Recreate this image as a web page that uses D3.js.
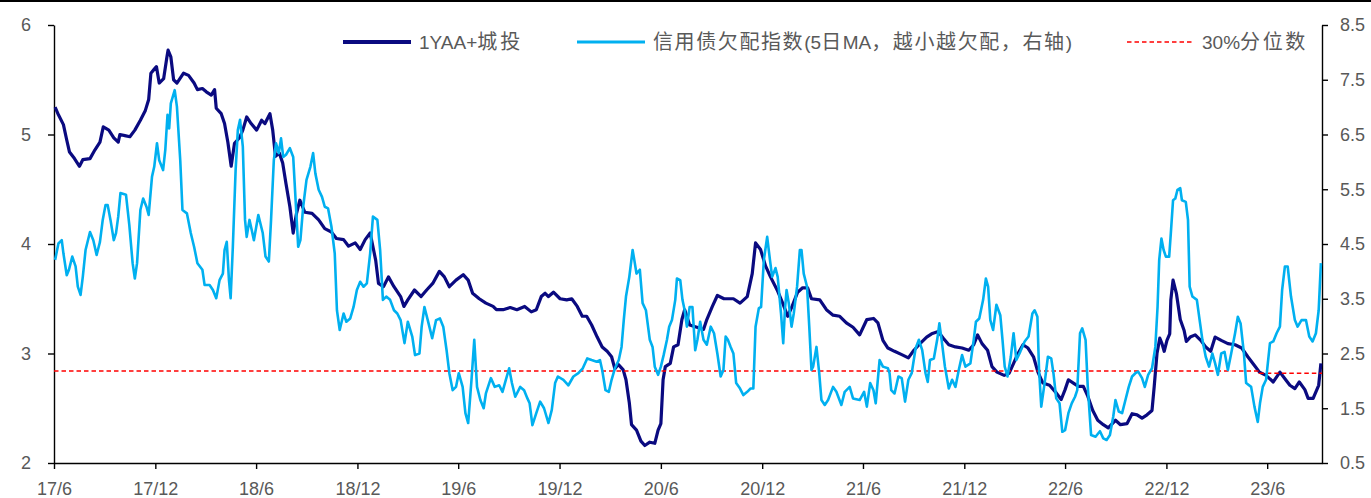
<!DOCTYPE html>
<html>
<head>
<meta charset="utf-8">
<script src="https://cdn.jsdelivr.net/npm/d3@7"></script>
<style>
  body { margin: 0; background: #fff; }
  svg { display: block; }
  text { font-family: "Liberation Sans", Arial, "Noto Sans CJK SC", sans-serif; fill: #595959; }
</style>
</head>
<body>
<svg id="chart"></svg>
<script>
// 1YAA+城投 yield (left axis)
var yieldSeries = [
  ["2017-06-03",5.25],["2017-06-09",5.18],["2017-06-18",5.09],["2017-06-24",4.95],["2017-06-29",4.84],
  ["2017-07-08",4.78],["2017-07-17",4.71],["2017-07-23",4.77],["2017-08-05",4.78],["2017-08-14",4.86],
  ["2017-08-23",4.93],["2017-08-29",5.07],["2017-09-08",5.04],["2017-09-17",4.97],["2017-09-25",4.93],
  ["2017-09-28",5.00],["2017-10-07",4.99],["2017-10-16",4.98],["2017-10-25",5.04],["2017-11-04",5.13],
  ["2017-11-13",5.22],["2017-11-19",5.32],["2017-11-23",5.56],["2017-11-28",5.59],["2017-12-03",5.62],
  ["2017-12-08",5.47],["2017-12-16",5.51],["2017-12-22",5.71],["2017-12-24",5.77],["2017-12-29",5.71],
  ["2018-01-03",5.50],["2018-01-09",5.47],["2018-01-21",5.56],["2018-01-30",5.54],["2018-02-09",5.47],
  ["2018-02-15",5.41],["2018-02-24",5.42],["2018-03-03",5.39],["2018-03-12",5.36],["2018-03-18",5.41],
  ["2018-03-21",5.24],["2018-03-30",5.19],["2018-04-05",5.10],["2018-04-11",4.93],["2018-04-17",4.71],
  ["2018-04-23",4.92],["2018-05-02",4.97],["2018-05-08",5.04],["2018-05-15",5.16],["2018-05-23",5.10],
  ["2018-06-02",5.04],["2018-06-11",5.13],["2018-06-17",5.10],["2018-06-26",5.19],["2018-07-01",5.04],
  ["2018-07-06",4.80],["2018-07-13",4.83],["2018-07-19",4.74],["2018-07-25",4.55],["2018-08-01",4.34],
  ["2018-08-07",4.10],["2018-08-13",4.28],["2018-08-19",4.40],["2018-08-28",4.29],["2018-09-10",4.28],
  ["2018-09-22",4.22],["2018-10-03",4.14],["2018-10-15",4.11],["2018-10-24",4.05],["2018-11-06",4.04],
  ["2018-11-15",3.98],["2018-11-27",4.01],["2018-12-06",3.95],["2018-12-15",4.04],["2018-12-24",4.10],
  ["2019-01-03",3.85],["2019-01-08",3.64],["2019-01-17",3.61],["2019-01-26",3.70],["2019-02-05",3.61],
  ["2019-02-17",3.52],["2019-02-23",3.43],["2019-03-02",3.49],["2019-03-14",3.58],["2019-03-26",3.52],
  ["2019-04-05",3.58],["2019-04-16",3.64],["2019-04-28",3.75],["2019-05-07",3.70],["2019-05-16",3.61],
  ["2019-05-28",3.67],["2019-06-10",3.72],["2019-06-19",3.67],["2019-06-27",3.55],["2019-07-09",3.50],
  ["2019-07-21",3.46],["2019-08-03",3.43],["2019-08-09",3.40],["2019-08-21",3.40],["2019-09-03",3.42],
  ["2019-09-15",3.40],["2019-09-29",3.43],["2019-10-11",3.38],["2019-10-20",3.40],["2019-10-29",3.52],
  ["2019-11-05",3.55],["2019-11-11",3.52],["2019-11-20",3.56],["2019-12-02",3.50],["2019-12-14",3.49],
  ["2019-12-23",3.50],["2020-01-02",3.43],["2020-01-11",3.34],["2020-01-19",3.34],["2020-01-28",3.26],
  ["2020-02-07",3.15],["2020-02-16",3.06],["2020-02-25",3.02],["2020-03-04",2.97],["2020-03-10",2.86],
  ["2020-03-16",2.90],["2020-03-25",2.85],["2020-03-30",2.76],["2020-04-05",2.55],["2020-04-09",2.35],
  ["2020-04-18",2.30],["2020-04-26",2.20],["2020-05-03",2.16],["2020-05-12",2.19],["2020-05-21",2.18],
  ["2020-05-27",2.30],["2020-06-01",2.36],["2020-06-05",2.76],["2020-06-09",2.88],["2020-06-18",2.91],
  ["2020-06-24",3.06],["2020-07-02",3.08],["2020-07-09",3.31],["2020-07-14",3.40],["2020-07-23",3.26],
  ["2020-08-05",3.24],["2020-08-17",3.22],["2020-08-23",3.31],["2020-09-02",3.43],["2020-09-11",3.53],
  ["2020-09-23",3.50],["2020-10-10",3.50],["2020-10-22",3.46],["2020-11-04",3.52],["2020-11-13",3.73],
  ["2020-11-19",4.01],["2020-11-28",3.95],["2020-12-07",3.80],["2020-12-16",3.70],["2020-12-28",3.58],
  ["2021-01-07",3.46],["2021-01-16",3.34],["2021-01-24",3.43],["2021-02-03",3.56],["2021-02-12",3.60],
  ["2021-02-21",3.60],["2021-02-28",3.50],["2021-03-15",3.49],["2021-03-27",3.40],["2021-04-08",3.35],
  ["2021-04-20",3.34],["2021-05-02",3.28],["2021-05-14",3.24],["2021-05-26",3.17],["2021-06-08",3.31],
  ["2021-06-20",3.32],["2021-06-28",3.28],["2021-07-07",3.12],["2021-07-16",3.05],["2021-07-28",3.02],
  ["2021-08-10",2.99],["2021-08-22",2.96],["2021-09-01",3.03],["2021-09-12",3.09],["2021-09-24",3.15],
  ["2021-10-03",3.18],["2021-10-15",3.20],["2021-10-24",3.14],["2021-11-03",3.08],["2021-11-15",3.06],
  ["2021-11-27",3.05],["2021-12-09",3.03],["2021-12-18",3.08],["2021-12-25",3.17],["2022-01-02",3.09],
  ["2022-01-12",3.03],["2022-01-20",2.88],["2022-01-29",2.83],["2022-02-11",2.80],["2022-02-20",2.82],
  ["2022-02-28",2.91],["2022-03-08",3.00],["2022-03-17",3.08],["2022-03-26",3.05],["2022-04-05",2.97],
  ["2022-04-13",2.83],["2022-04-22",2.73],["2022-05-04",2.71],["2022-05-16",2.64],["2022-05-25",2.58],
  ["2022-06-01",2.67],["2022-06-07",2.76],["2022-06-16",2.73],["2022-06-25",2.70],["2022-07-04",2.70],
  ["2022-07-12",2.61],["2022-07-21",2.48],["2022-07-30",2.39],["2022-08-09",2.35],["2022-08-18",2.32],
  ["2022-08-31",2.39],["2022-09-09",2.35],["2022-09-21",2.36],["2022-09-30",2.45],["2022-10-09",2.44],
  ["2022-10-18",2.41],["2022-10-27",2.44],["2022-11-05",2.48],["2022-11-09",2.70],["2022-11-14",3.00],
  ["2022-11-19",3.14],["2022-11-23",3.09],["2022-11-27",3.02],["2022-12-02",3.12],["2022-12-07",3.18],
  ["2022-12-09",3.49],["2022-12-13",3.67],["2022-12-19",3.55],["2022-12-26",3.31],["2023-01-02",3.21],
  ["2023-01-06",3.11],["2023-01-13",3.15],["2023-01-22",3.17],["2023-02-01",3.12],["2023-02-10",3.06],
  ["2023-02-19",3.02],["2023-02-27",3.15],["2023-03-10",3.12],["2023-03-22",3.09],["2023-04-04",3.08],
  ["2023-04-16",3.05],["2023-04-27",2.97],["2023-05-09",2.89],["2023-05-18",2.83],["2023-05-30",2.80],
  ["2023-06-12",2.74],["2023-06-24",2.83],["2023-07-03",2.77],["2023-07-12",2.71],["2023-07-21",2.68],
  ["2023-07-29",2.74],["2023-08-08",2.67],["2023-08-14",2.59],["2023-08-23",2.59],["2023-09-02",2.71],
  ["2023-09-06",2.91]
];

// 信用债欠配指数 5日MA (right axis)
var indexSeries = [
  ["2017-06-03",4.21],["2017-06-09",4.51],["2017-06-15",4.57],["2017-06-18",4.33],["2017-06-24",3.93],
  ["2017-06-28",4.03],["2017-07-04",4.27],["2017-07-10",4.09],["2017-07-14",3.72],["2017-07-19",3.57],
  ["2017-07-23",3.90],["2017-07-28",4.39],["2017-08-05",4.72],["2017-08-11",4.57],["2017-08-17",4.30],
  ["2017-08-23",4.54],["2017-08-28",4.94],["2017-09-02",5.21],["2017-09-06",5.21],["2017-09-11",4.94],
  ["2017-09-17",4.57],["2017-09-21",4.70],["2017-09-25",5.00],["2017-09-29",5.43],["2017-10-09",5.40],
  ["2017-10-15",4.85],["2017-10-21",4.15],["2017-10-25",3.87],["2017-10-29",4.15],["2017-11-04",5.12],
  ["2017-11-09",5.33],["2017-11-15",5.18],["2017-11-19",5.03],["2017-11-25",5.73],["2017-11-29",5.91],
  ["2017-12-04",6.34],["2017-12-08",6.03],["2017-12-15",5.85],["2017-12-19",6.22],["2017-12-23",6.86],
  ["2017-12-26",6.61],["2017-12-29",7.07],["2018-01-05",7.31],["2018-01-09",7.01],["2018-01-15",6.03],
  ["2018-01-19",5.12],["2018-01-27",5.06],["2018-02-03",4.70],["2018-02-09",4.45],["2018-02-15",4.15],
  ["2018-02-24",4.03],["2018-02-28",3.75],["2018-03-09",3.75],["2018-03-15",3.66],["2018-03-21",3.51],
  ["2018-03-27",3.84],["2018-04-02",3.96],["2018-04-05",4.39],["2018-04-09",4.54],["2018-04-13",3.84],
  ["2018-04-16",3.51],["2018-04-20",4.45],["2018-04-25",5.85],["2018-04-29",6.58],["2018-05-03",6.77],
  ["2018-05-08",6.28],["2018-05-12",4.94],["2018-05-15",4.63],["2018-05-20",4.94],["2018-05-24",4.76],
  ["2018-05-28",4.57],["2018-06-05",5.03],["2018-06-13",4.70],["2018-06-18",4.27],["2018-06-24",4.18],
  ["2018-06-28",4.94],["2018-07-03",6.03],["2018-07-07",6.34],["2018-07-12",6.16],["2018-07-16",6.43],
  ["2018-07-20",6.09],["2018-07-25",6.13],["2018-08-01",6.25],["2018-08-07",6.09],["2018-08-12",5.18],
  ["2018-08-16",4.45],["2018-08-20",4.57],["2018-08-25",5.18],["2018-08-31",5.67],["2018-09-07",5.91],
  ["2018-09-12",6.16],["2018-09-16",5.79],["2018-09-22",5.49],["2018-09-28",5.36],["2018-10-03",5.18],
  ["2018-10-09",5.15],["2018-10-15",4.82],["2018-10-21",4.33],["2018-10-25",3.29],["2018-10-30",2.93],
  ["2018-11-06",3.23],["2018-11-11",3.08],["2018-11-18",3.14],["2018-11-24",3.35],["2018-11-30",3.66],
  ["2018-12-06",3.81],["2018-12-12",3.72],["2018-12-18",3.78],["2018-12-24",4.33],["2018-12-29",5.00],
  ["2019-01-06",4.94],["2019-01-11",4.39],["2019-01-16",3.48],["2019-01-22",3.54],["2019-01-29",3.48],
  ["2019-02-05",3.29],["2019-02-11",3.23],["2019-02-17",3.11],["2019-02-24",2.69],["2019-03-02",3.08],
  ["2019-03-10",2.81],["2019-03-15",2.47],["2019-03-23",2.50],["2019-03-27",2.99],["2019-04-01",3.35],
  ["2019-04-07",3.11],["2019-04-15",2.78],["2019-04-22",3.11],["2019-04-29",3.14],["2019-05-05",2.99],
  ["2019-05-11",2.56],["2019-05-16",2.14],["2019-05-22",1.83],["2019-05-28",1.89],["2019-06-02",2.14],
  ["2019-06-09",1.89],["2019-06-14",1.41],["2019-06-19",1.23],["2019-06-25",2.02],["2019-06-30",2.75],
  ["2019-07-05",1.89],["2019-07-11",1.65],["2019-07-17",1.50],["2019-07-21",1.77],["2019-07-30",2.05],
  ["2019-08-06",1.89],["2019-08-14",1.92],["2019-08-20",1.80],["2019-08-26",2.02],["2019-09-01",2.23],
  ["2019-09-06",1.96],["2019-09-12",1.71],["2019-09-21",1.89],["2019-09-28",1.83],["2019-10-04",1.68],
  ["2019-10-08",1.59],["2019-10-13",1.19],["2019-10-20",1.41],["2019-10-27",1.62],["2019-11-03",1.50],
  ["2019-11-11",1.23],["2019-11-17",1.47],["2019-11-23",1.96],["2019-11-28",2.08],["2019-12-08",2.02],
  ["2019-12-17",1.92],["2019-12-26",2.08],["2020-01-04",2.14],["2020-01-12",2.23],["2020-01-20",2.41],
  ["2020-01-28",2.38],["2020-02-06",2.35],["2020-02-12",2.38],["2020-02-16",2.20],["2020-02-22",1.83],
  ["2020-02-28",1.80],["2020-03-04",2.02],["2020-03-10",2.23],["2020-03-17",2.38],["2020-03-22",2.62],
  ["2020-03-26",3.11],["2020-03-30",3.54],["2020-04-05",3.90],["2020-04-11",4.39],["2020-04-14",4.21],
  ["2020-04-18",3.96],["2020-04-24",4.03],["2020-04-29",3.42],["2020-05-05",3.29],["2020-05-12",2.75],
  ["2020-05-17",2.62],["2020-05-21",2.26],["2020-05-27",2.11],["2020-06-01",2.26],["2020-06-06",2.47],
  ["2020-06-12",2.75],["2020-06-16",2.99],["2020-06-21",3.11],["2020-06-27",3.48],["2020-06-30",3.87],
  ["2020-07-06",3.84],["2020-07-10",3.48],["2020-07-14",3.29],["2020-07-18",2.99],["2020-07-23",3.35],
  ["2020-07-28",3.35],["2020-08-02",2.56],["2020-08-06",2.75],["2020-08-11",3.08],["2020-08-17",2.75],
  ["2020-08-23",2.66],["2020-08-30",2.99],["2020-09-05",2.87],["2020-09-11",2.50],["2020-09-17",2.08],
  ["2020-09-22",2.20],["2020-09-26",2.81],["2020-09-30",2.75],["2020-10-05",2.62],["2020-10-10",2.50],
  ["2020-10-15",1.96],["2020-10-22",1.86],["2020-10-28",1.74],["2020-11-04",1.80],["2020-11-10",1.86],
  ["2020-11-15",1.86],["2020-11-19",2.99],["2020-11-25",3.33],["2020-11-29",3.35],["2020-12-04",4.21],
  ["2020-12-10",4.63],["2020-12-15",4.21],["2020-12-19",3.90],["2020-12-25",4.06],["2020-12-29",3.90],
  ["2021-01-04",3.23],["2021-01-08",2.69],["2021-01-11",3.29],["2021-01-14",3.66],["2021-01-18",3.42],
  ["2021-01-23",2.99],["2021-01-27",3.23],["2021-02-02",3.72],["2021-02-07",4.39],["2021-02-10",4.39],
  ["2021-02-14",3.96],["2021-02-20",3.72],["2021-02-24",2.99],["2021-02-28",2.20],["2021-03-03",2.26],
  ["2021-03-09",2.62],["2021-03-14",2.14],["2021-03-18",1.65],["2021-03-24",1.56],["2021-03-30",1.65],
  ["2021-04-08",1.89],["2021-04-14",1.80],["2021-04-23",1.56],["2021-04-29",1.80],["2021-05-08",1.89],
  ["2021-05-14",1.68],["2021-05-26",1.65],["2021-06-03",1.80],["2021-06-08",1.53],["2021-06-14",1.96],
  ["2021-06-20",1.83],["2021-06-24",1.59],["2021-07-01",2.38],["2021-07-07",2.26],["2021-07-16",2.23],
  ["2021-07-19",2.14],["2021-07-22",1.83],["2021-07-28",1.77],["2021-08-04",2.08],["2021-08-10",2.05],
  ["2021-08-16",1.62],["2021-08-22",2.02],["2021-08-28",2.14],["2021-09-04",2.59],["2021-09-10",2.75],
  ["2021-09-16",2.56],["2021-09-22",2.14],["2021-09-26",1.98],["2021-09-30",2.38],["2021-10-07",2.41],
  ["2021-10-13",2.75],["2021-10-17",3.05],["2021-10-21",2.75],["2021-10-27",2.26],["2021-11-03",1.86],
  ["2021-11-09",2.02],["2021-11-15",1.89],["2021-11-21",2.20],["2021-11-27",2.47],["2021-12-03",2.26],
  ["2021-12-12",2.32],["2021-12-18",2.75],["2021-12-22",3.08],["2021-12-28",3.14],["2022-01-04",3.48],
  ["2022-01-09",3.87],["2022-01-13",3.72],["2022-01-17",3.11],["2022-01-22",2.93],["2022-01-28",3.39],
  ["2022-02-04",3.20],["2022-02-08",2.75],["2022-02-12",2.26],["2022-02-17",2.08],["2022-02-23",2.44],
  ["2022-02-28",2.87],["2022-03-05",2.38],["2022-03-12",2.53],["2022-03-20",2.72],["2022-03-27",2.81],
  ["2022-04-03",3.23],["2022-04-07",3.29],["2022-04-12",3.17],["2022-04-15",2.20],["2022-04-19",1.53],
  ["2022-04-25",1.96],["2022-05-01",2.44],["2022-05-07",2.41],["2022-05-11",2.14],["2022-05-16",1.68],
  ["2022-05-22",1.59],["2022-05-27",1.07],["2022-06-01",1.10],["2022-06-07",1.41],["2022-06-13",1.59],
  ["2022-06-19",1.71],["2022-06-23",1.83],["2022-06-28",2.87],["2022-07-02",2.96],["2022-07-08",2.75],
  ["2022-07-12",1.89],["2022-07-18",1.01],["2022-07-26",0.98],["2022-08-03",1.08],["2022-08-09",0.95],
  ["2022-08-15",0.92],["2022-08-21",1.01],["2022-08-27",1.35],["2022-08-31",1.65],["2022-09-06",1.44],
  ["2022-09-12",1.41],["2022-09-18",1.65],["2022-09-24",1.89],["2022-09-30",2.08],["2022-10-06",2.14],
  ["2022-10-11",2.17],["2022-10-18",2.05],["2022-10-23",1.89],["2022-10-29",2.11],["2022-11-05",2.23],
  ["2022-11-11",2.62],["2022-11-15",3.35],["2022-11-18",4.21],["2022-11-22",4.60],["2022-11-26",4.39],
  ["2022-11-30",4.27],["2022-12-06",4.27],["2022-12-09",4.70],["2022-12-13",5.30],["2022-12-17",5.33],
  ["2022-12-21",5.49],["2022-12-26",5.52],["2022-12-29",5.30],["2023-01-05",5.27],["2023-01-09",4.94],
  ["2023-01-12",3.72],["2023-01-17",3.54],["2023-01-25",3.48],["2023-01-30",3.11],["2023-02-04",2.75],
  ["2023-02-10",2.44],["2023-02-16",2.26],["2023-02-22",2.50],["2023-02-27",2.32],["2023-03-04",2.11],
  ["2023-03-10",2.50],["2023-03-16",2.53],["2023-03-22",2.20],["2023-03-28",2.50],["2023-04-04",2.87],
  ["2023-04-09",3.17],["2023-04-14",3.05],["2023-04-20",2.50],["2023-04-24",1.96],["2023-05-03",1.89],
  ["2023-05-09",1.53],["2023-05-15",1.25],["2023-05-19",1.59],["2023-05-24",1.89],["2023-05-30",2.02],
  ["2023-06-06",2.69],["2023-06-12",2.72],["2023-06-18",2.87],["2023-06-24",2.99],["2023-06-28",3.66],
  ["2023-07-03",4.09],["2023-07-08",4.09],["2023-07-14",3.54],["2023-07-21",3.11],["2023-07-26",2.99],
  ["2023-08-02",3.11],["2023-08-10",3.11],["2023-08-16",2.81],["2023-08-22",2.72],["2023-08-28",2.87],
  ["2023-09-02",3.29],["2023-09-06",4.15]
];

// 30%分位数 reference line (left axis)
var percentileDates = ["2017-06-01", "2023-05-18", "2023-09-08"];
var percentileValues = [2.84, 2.82, 2.82];

var xTickLabels = ["17/6", "17/12", "18/6", "18/12", "19/6", "19/12", "20/6",
  "20/12", "21/6", "21/12", "22/6", "22/12", "23/6"];
var leftTicks = [2, 3, 4, 5, 6];
var rightTicks = [0.5, 1.5, 2.5, 3.5, 4.5, 5.5, 6.5, 7.5, 8.5];
var xDomain = ["2017-06-01", "2023-09-08"];

var seriesNames = ["1YAA+城投", "信用债欠配指数(5日MA，越小越欠配，右轴)", "30%分位数"];

var width = 1371,
  height = 498;
var plot = { left: 54, right: 1322, top: 25, bottom: 463 };
var colors = { yield: "#0a0a80", index: "#00b0f0", pct: "#ff0000", axis: "#000" };

var parseDate = d3.timeParse("%Y-%m-%d");

var svg = d3.select("#chart").attr("width", width).attr("height", height);

svg.append("rect")
  .attr("x", 0).attr("y", 0)
  .attr("width", width).attr("height", 2)
  .attr("fill", "#000");

var x = d3.scaleTime()
  .domain(xDomain.map(parseDate))
  .range([plot.left, plot.right]);
var yLeft = d3.scaleLinear().domain([2, 6]).range([plot.bottom, plot.top]);
var yRight = d3.scaleLinear().domain([0.5, 8.5]).range([plot.bottom, plot.top]);

var xTickDates = xTickLabels.map(function (s) {
  var parts = s.split("/");
  return new Date(2000 + +parts[0], +parts[1] - 1, 1);
});

function styleAxis(g) {
  g.select(".domain").attr("stroke", colors.axis).attr("stroke-width", 1.4);
  g.selectAll(".tick line").attr("stroke", colors.axis).attr("stroke-width", 1.4);
  g.selectAll(".tick text")
    .attr("fill", "#595959")
    .attr("font-family", '"Liberation Sans", Arial, sans-serif')
    .style("font-size", "18px");
}

svg.append("g")
  .attr("transform", "translate(0," + plot.bottom + ")")
  .call(d3.axisBottom(x)
    .tickValues(xTickDates)
    .tickFormat(function (d, i) { return xTickLabels[i]; })
    .tickSize(6).tickSizeOuter(0).tickPadding(13))
  .call(styleAxis);

svg.append("g")
  .attr("transform", "translate(" + plot.left + ",0)")
  .call(d3.axisLeft(yLeft)
    .tickValues(leftTicks)
    .tickFormat(d3.format("d"))
    .tickSize(6).tickSizeOuter(0).tickPadding(17))
  .call(styleAxis);

svg.append("g")
  .attr("transform", "translate(" + plot.right + ",0)")
  .call(d3.axisRight(yRight)
    .tickValues(rightTicks)
    .tickFormat(d3.format(".1f"))
    .tickSize(6).tickSizeOuter(0).tickPadding(12))
  .call(styleAxis);

var yieldLine = d3.line()
  .x(function (d) { return x(parseDate(d[0])); })
  .y(function (d) { return yLeft(d[1]); });

var indexLine = d3.line()
  .x(function (d) { return x(parseDate(d[0])); })
  .y(function (d) { return yRight(d[1]); });

var pctLine = d3.line()
  .curve(d3.curveStepAfter)
  .x(function (d, i) { return x(parseDate(percentileDates[i])); })
  .y(function (d) { return yLeft(d); });

svg.append("path")
  .datum(yieldSeries)
  .attr("d", yieldLine)
  .attr("fill", "none")
  .attr("stroke", colors.yield)
  .attr("stroke-width", 3.2)
  .attr("stroke-linejoin", "round");

svg.append("path")
  .datum(percentileValues)
  .attr("d", pctLine)
  .attr("fill", "none")
  .attr("stroke", colors.pct)
  .attr("stroke-width", 1.5)
  .attr("stroke-dasharray", "4.5,3");

svg.append("path")
  .datum(indexSeries)
  .attr("d", indexLine)
  .attr("fill", "none")
  .attr("stroke", colors.index)
  .attr("stroke-width", 2.6)
  .attr("stroke-linejoin", "round");

// legend: CJK runs set a bit larger, spacing spread over the CJK chars to fill the width
var legendItems = [
  { name: seriesNames[0], color: colors.yield, width: 4, dash: null, x0: 343, x1: 411, tx: 419, tw: 104 },
  { name: seriesNames[1], color: colors.index, width: 3, dash: null, x0: 577, x1: 645, tx: 653, tw: 419 },
  { name: seriesNames[2], color: colors.pct, width: 1.5, dash: "4.5,3", x0: 1127, x1: 1193, tx: 1202, tw: 106 }
];
var legendY = 42;
var cjkRe = /[\u3000-\u303f\u4e00-\u9fff\uff00-\uffef]/;

var legend = svg.append("g").attr("class", "legend");
legendItems.forEach(function (item) {
  legend.append("line")
    .attr("x1", item.x0).attr("x2", item.x1)
    .attr("y1", legendY).attr("y2", legendY)
    .attr("stroke", item.color)
    .attr("stroke-width", item.width)
    .attr("stroke-dasharray", item.dash);

  var text = legend.append("text")
    .attr("x", item.tx)
    .attr("y", legendY + 6.5)
    .style("font-size", "19px");

  var runs = [];
  Array.from(item.name).forEach(function (ch) {
    var isCjk = cjkRe.test(ch);
    var last = runs[runs.length - 1];
    if (last && last.cjk === isCjk) last.text += ch;
    else runs.push({ text: ch, cjk: isCjk });
  });
  runs.forEach(function (r) {
    text.append("tspan")
      .attr("class", r.cjk ? "cjk" : "latin")
      .style("font-size", r.cjk ? "20px" : "19px")
      .text(r.text);
  });

  var natural = text.node().getComputedTextLength();
  var cjkCount = Array.from(item.name).filter(function (ch) { return cjkRe.test(ch); }).length;
  var extra = Math.max(0, (item.tw - natural) / cjkCount);
  text.selectAll("tspan.cjk").attr("letter-spacing", extra);
});
</script>
</body>
</html>
